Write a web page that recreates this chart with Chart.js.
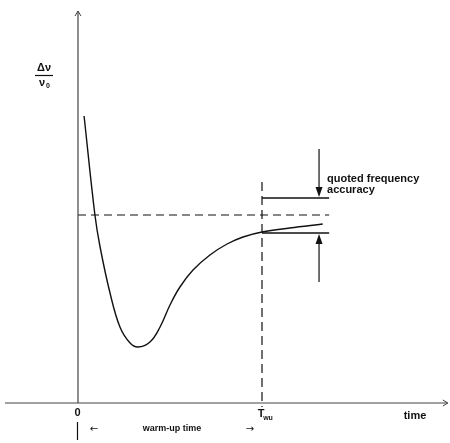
<!DOCTYPE html>
<html lang="en">
<head>
    <meta charset="UTF-8">
    <title>Warm-up time and frequency accuracy</title>
    <script src="https://cdn.jsdelivr.net/npm/chart.js"></script>
    <style>
        body {
            margin: 0;
            background: #fff;
        }
        .wrap {
            width: 450px;
            height: 443px;
            position: relative;
        }
    </style>
</head>
<body>
    <div class="wrap">
        <canvas id="warmupChart"></canvas>
    </div>

    <script>
        // Frequency offset curve during warm-up (time units: T_wu = 10, level units: final value = 0)
        const curveX = [0.33, 0.92, 1.2, 1.74, 2.28, 2.83, 3.26, 3.91, 4.46, 5.0, 5.54, 6.25, 7.17, 8.1, 8.97, 10.0, 11.5, 13.3];
        const curveY = [4.95, 0.0, -1.6, -3.9, -5.6, -6.4, -6.6, -6.35, -5.6, -4.5, -3.6, -2.75, -2.0, -1.45, -1.1, -0.85, -0.65, -0.45];

        const nominalLevel = 0;       // horizontal dashed line
        const warmupTime = 10;        // T_wu
        const accuracyHigh = 0.85;    // upper limit of quoted accuracy band
        const accuracyLow = -0.9;     // lower limit
        const bandEnd = 13.65;
        const arrowX = 13.1;
        const arrowTop = 3.3;
        const arrowBottom = -3.35;
        const axisY = -9.4;           // where the time axis sits
        const axisXStart = -3.97;
        const axisXEnd = 20.1;
        const axisYTop = 10.2;
        const dashTop = 1.65;
        const dashBottom = -9.6;

        // Labels
        const zeroLabel = '0';
        const twuLabel = 'T';
        const twuSub = 'wu';
        const timeLabel = 'time';
        const warmupLabel = 'warm-up time';
        const accuracyLines = ['quoted frequency', 'accuracy'];

        const ink = '#111';
        const axisInk = '#444';

        function seg(x0, y0, x1, y1) {
            return [{ x: x0, y: y0 }, { x: x1, y: y1 }];
        }

        function lineSet(data, color, width, dash) {
            return {
                data: data,
                showLine: true,
                borderColor: color,
                borderWidth: width,
                borderDash: dash || [],
                pointRadius: 0,
                tension: 0,
                fill: false
            };
        }

        const curve = curveX.map((x, i) => ({ x: x, y: curveY[i] }));

        const datasets = [
            lineSet(seg(0, axisY, 0, axisYTop), axisInk, 1.2),
            lineSet(seg(axisXStart, axisY, axisXEnd, axisY), axisInk, 1.2),
            lineSet(seg(0, nominalLevel, bandEnd, nominalLevel), ink, 1.2, [8, 5]),
            lineSet(seg(warmupTime, dashTop, warmupTime, dashBottom), ink, 1.2, [9, 5]),
            lineSet(seg(warmupTime, accuracyHigh, bandEnd, accuracyHigh), ink, 1.3),
            lineSet(seg(warmupTime, accuracyLow, bandEnd, accuracyLow), ink, 1.3),
            lineSet(seg(arrowX, arrowTop, arrowX, accuracyHigh + 0.3), ink, 1.2),
            lineSet(seg(arrowX, arrowBottom, arrowX, accuracyLow - 0.3), ink, 1.2),
            Object.assign(lineSet(curve, ink, 1.4), { tension: 0.4 })
        ];

        // Draws arrowheads and text through the scales
        const annotations = {
            id: 'annotations',
            afterDatasetsDraw(chart) {
                const c = chart.ctx;
                const sx = chart.scales.x;
                const sy = chart.scales.y;
                const px = v => sx.getPixelForValue(v);
                const py = v => sy.getPixelForValue(v);

                c.save();
                c.fillStyle = ink;
                c.strokeStyle = ink;

                // filled arrowheads on the accuracy arrows
                function head(x, y, dir) {
                    c.beginPath();
                    c.moveTo(x, y);
                    c.lineTo(x - 3.5, y - dir * 10);
                    c.lineTo(x + 3.5, y - dir * 10);
                    c.closePath();
                    c.fill();
                }
                head(px(arrowX), py(accuracyHigh) - 1, 1);
                head(px(arrowX), py(accuracyLow) + 1, -1);

                // open arrowheads on the axes
                c.lineWidth = 1;
                c.strokeStyle = axisInk;
                c.beginPath();
                c.moveTo(px(0) - 3, py(axisYTop) + 5);
                c.lineTo(px(0), py(axisYTop));
                c.lineTo(px(0) + 3, py(axisYTop) + 5);
                c.moveTo(px(axisXEnd) - 5, py(axisY) - 3);
                c.lineTo(px(axisXEnd), py(axisY));
                c.lineTo(px(axisXEnd) - 5, py(axisY) + 3);
                c.stroke();

                // left bound of the warm-up interval
                c.strokeStyle = ink;
                c.lineWidth = 1.2;
                c.beginPath();
                c.moveTo(px(0) - 0.5, py(axisY) + 19);
                c.lineTo(px(0) - 0.5, py(axisY) + 37);
                c.stroke();

                c.textBaseline = 'middle';
                c.textAlign = 'center';
                c.font = 'bold 11px "Liberation Sans", Arial, sans-serif';
                c.fillText(zeroLabel, px(0) - 0.5, py(axisY) + 10);
                c.fillText(twuLabel, px(warmupTime) - 1, py(axisY) + 11);
                c.font = 'bold 7px "Liberation Sans", Arial, sans-serif';
                c.fillText(twuSub, px(warmupTime) + 6, py(axisY) + 15);

                c.font = 'bold 11px "Liberation Sans", Arial, sans-serif';
                c.fillText(timeLabel, 415, py(axisY) + 13);

                c.font = 'bold 9px "Liberation Sans", Arial, sans-serif';
                c.fillText(warmupLabel, 172, py(axisY) + 26);
                c.font = '10px "DejaVu Sans", sans-serif';
                c.fillText('\u2190', px(0) + 16, py(axisY) + 26);
                c.fillText('\u2192', px(warmupTime) - 12, py(axisY) + 26);

                c.textAlign = 'left';
                c.font = 'bold 11px "Liberation Sans", Arial, sans-serif';
                c.fillText(accuracyLines[0], px(arrowX) + 8, py(arrowTop) + 30);
                c.fillText(accuracyLines[1], px(arrowX) + 8, py(arrowTop) + 41);

                // y-axis label  Δν / ν0
                c.textAlign = 'center';
                c.font = 'bold 11px "Liberation Sans", Arial, sans-serif';
                c.fillText('\u0394\u03bd', 44, 68);
                c.lineWidth = 1.2;
                c.beginPath();
                c.moveTo(35, 75.5);
                c.lineTo(53, 75.5);
                c.stroke();
                c.fillText('\u03bd', 42, 83);
                c.font = 'bold 7px "Liberation Sans", Arial, sans-serif';
                c.fillText('0', 48, 86);

                c.restore();
            }
        };

        const ctx = document.getElementById('warmupChart').getContext('2d');
        const chart = new Chart(ctx, {
            type: 'scatter',
            data: { datasets: datasets },
            options: {
                responsive: true,
                maintainAspectRatio: false,
                animation: false,
                layout: { padding: 0 },
                scales: {
                    x: { type: 'linear', display: false, min: -78 / 18.4, max: 372 / 18.4 },
                    y: { type: 'linear', display: false, min: -11.4, max: 10.75 }
                },
                plugins: {
                    legend: { display: false },
                    tooltip: { enabled: false }
                }
            },
            plugins: [annotations]
        });
    </script>
</body>
</html>
